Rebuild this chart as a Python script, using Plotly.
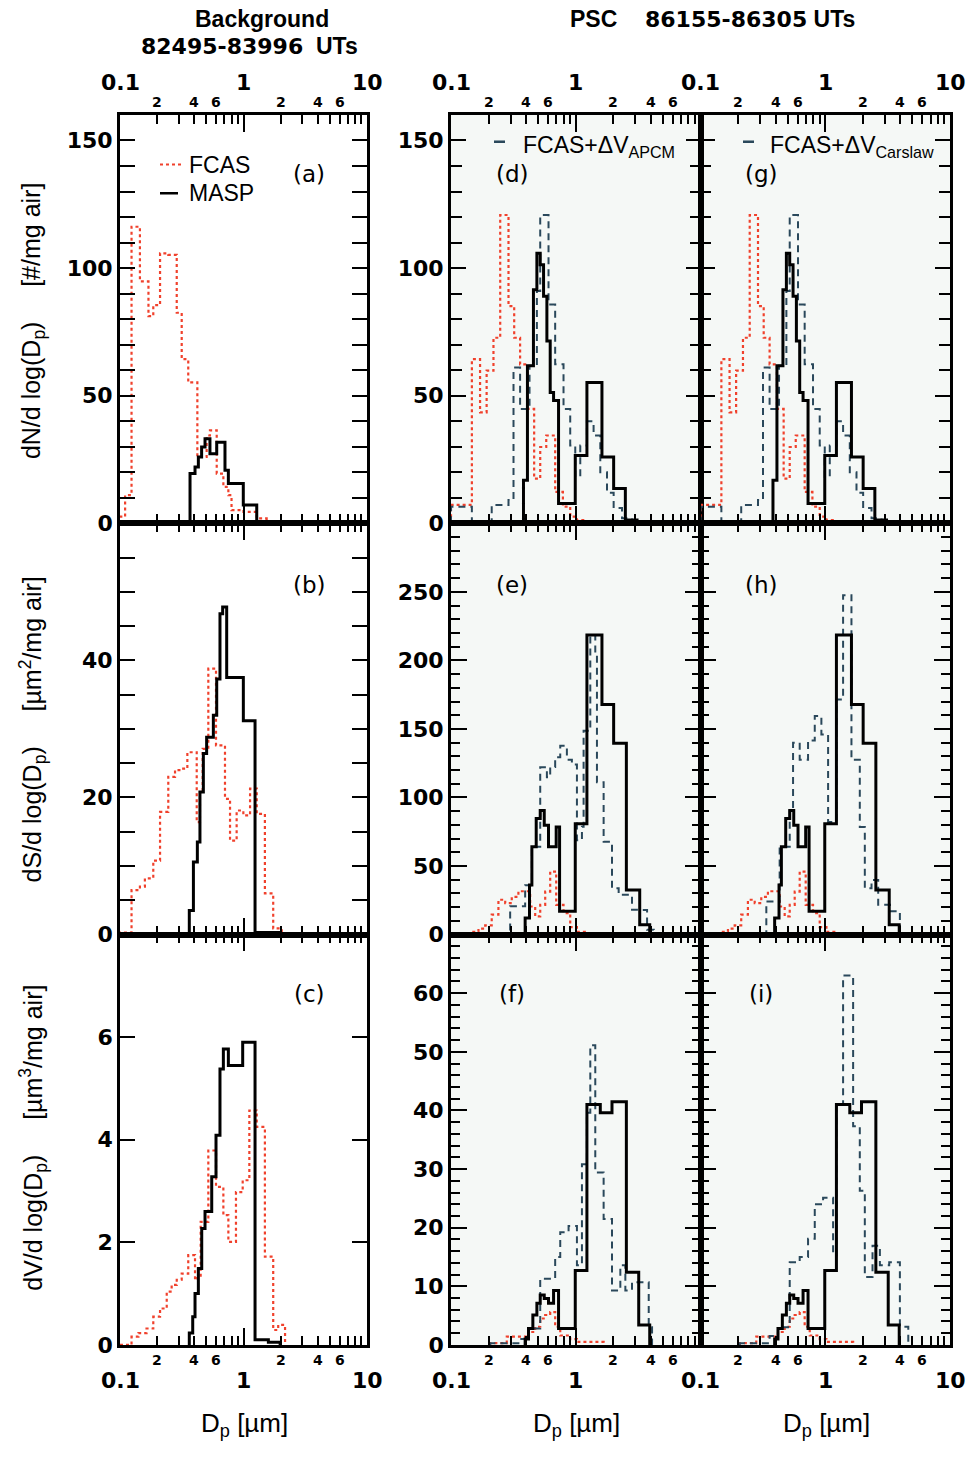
import math
import plotly.graph_objects as go

# ---------------------------------------------------------------------------
# Size distributions: bin edges in Dp [um] and dX/dlog(Dp) per bin
# ---------------------------------------------------------------------------

# Background, 82495-83996 UTs
bg_fcas_n_edges = [0.100, 0.110, 0.124, 0.145, 0.170, 0.186, 0.211, 0.246, 0.288, 0.316,
                   0.357, 0.423, 0.503, 0.535, 0.607, 0.687, 0.754, 0.800, 1.00, 1.28, 1.54, 1.74]
bg_fcas_n = [2.6, 11.0, 116.2, 94.8, 81.2, 85.5, 105.8, 105.2, 82.5, 64.3,
             55.2, 26.0, 34.4, 36.4, 19.5, 14.3, 11.0, 5.2, 4.5, 1.9, 0.6]
bg_masp_n_edges = [0.369, 0.405, 0.431, 0.458, 0.488, 0.535, 0.607, 0.708, 0.754, 0.996, 1.28]
bg_masp_n = [19.5, 22.1, 26.0, 29.9, 33.1, 27.3, 31.8, 20.8, 15.6, 7.2]

bg_fcas_s_edges = [0.100, 0.124, 0.145, 0.159, 0.186, 0.211, 0.246, 0.279, 0.316, 0.351, 0.418,
                   0.444, 0.467, 0.519, 0.599, 0.708, 0.778, 0.880, 0.997, 1.13, 1.28, 1.49, 1.74, 2.04]
bg_fcas_s = [0.3, 6.5, 7.0, 8.2, 10.8, 17.9, 23.0, 24.0, 24.2, 26.6, 16.4,
             20.8, 27.1, 38.8, 27.6, 19.8, 13.7, 18.1, 17.4, 21.3, 17.6, 6.0, 0.9]
bg_masp_s_edges = [0.364, 0.393, 0.423, 0.444, 0.473, 0.503, 0.570, 0.607, 0.645, 0.678,
                   0.731, 0.997, 1.24, 1.98]
bg_masp_s = [3.5, 10.6, 13.5, 20.8, 26.4, 28.8, 32.0, 37.3, 46.8, 47.8, 37.5, 31.2, 0.3]

bg_fcas_v_edges = [0.100, 0.124, 0.141, 0.164, 0.186, 0.211, 0.239, 0.262, 0.288, 0.316, 0.357,
                   0.405, 0.423, 0.450, 0.519, 0.599, 0.687, 0.754, 0.869, 0.985, 1.115, 1.28,
                   1.49, 1.74, 1.91, 2.17]
bg_fcas_v = [0.0, 0.16, 0.23, 0.32, 0.55, 0.71, 1.04, 1.17, 1.27, 1.39, 1.75, 1.27, 1.30,
             2.40, 3.79, 3.08, 2.53, 2.01, 2.98, 3.21, 4.57, 4.25, 1.72, 0.29, 0.39]
bg_masp_v_edges = [0.364, 0.388, 0.405, 0.431, 0.459, 0.488, 0.553, 0.599, 0.645, 0.687,
                   0.754, 0.985, 1.24, 1.59, 1.98]
bg_masp_v = [0.23, 0.55, 1.00, 1.49, 2.27, 2.60, 3.28, 4.09, 5.38, 5.77, 5.45, 5.90, 0.10, 0.05]

# PSC, 86155-86305 UTs
psc_fcas_n_edges = [0.100, 0.147, 0.171, 0.193, 0.219, 0.248, 0.289, 0.321, 0.358, 0.410,
                    0.464, 0.519, 0.580, 0.684, 0.789, 0.903, 1.022, 1.229, 2.141]
psc_fcas_n = [7.2, 64.3, 43.5, 59.8, 72.7, 120.8, 85.1, 72.7, 62.3, 44.8,
              17.5, 29.9, 34.4, 12.3, 6.5, 2.6, 1.3, 0.6]
psc_masp_n_edges = [0.381, 0.410, 0.458, 0.488, 0.519, 0.552, 0.587, 0.624, 0.664, 0.728,
                    0.991, 1.229, 1.622, 2.013, 2.498, 3.10, 3.30]
psc_masp_n = [16.9, 61.7, 91.5, 105.8, 101.3, 89.0, 71.4, 51.3, 48.1, 7.8,
              26.6, 55.2, 26.0, 13.6, 1.3, 0.5]
apcm_n_edges = [0.100, 0.147, 0.212, 0.289, 0.317, 0.358, 0.426, 0.488, 0.519, 0.605, 0.684,
                0.798, 0.903, 0.991, 1.087, 1.229, 1.39, 1.573, 1.78, 2.013, 2.349, 2.826, 3.30]
apcm_n = [6.5, 0.0, 7.2, 9.1, 61.0, 44.8, 61.7, 91.0, 120.8, 85.7, 62.3,
          44.8, 30.5, 18.2, 30.5, 40.0, 34.4, 20.0, 12.0, 6.0, 2.0, 0.8]
carslaw_n_edges = [0.100, 0.147, 0.212, 0.289, 0.317, 0.358, 0.426, 0.488, 0.519, 0.605, 0.684,
                   0.798, 0.903, 0.991, 1.087, 1.229, 1.39, 1.573, 1.78, 2.013, 2.349, 2.826, 3.30]
carslaw_n = [6.5, 0.0, 7.2, 9.1, 61.0, 44.8, 61.7, 91.0, 120.8, 85.7, 62.3,
             44.8, 30.5, 18.2, 30.5, 40.0, 34.4, 20.0, 12.0, 6.0, 2.0, 0.8]

psc_fcas_s_edges = [0.100, 0.147, 0.166, 0.188, 0.212, 0.240, 0.272, 0.307, 0.347, 0.431,
                    0.473, 0.519, 0.569, 0.624, 0.697, 0.798, 0.903, 1.022, 1.229, 1.78]
psc_fcas_s = [0.5, 2.0, 4.3, 6.7, 14.5, 25.4, 22.9, 27.5, 31.6, 20.5,
              13.3, 21.7, 31.4, 45.9, 21.7, 15.7, 5.5, 2.0, 0.8]
psc_masp_s_edges = [0.393, 0.426, 0.445, 0.482, 0.519, 0.559, 0.605, 0.697, 0.742, 0.991,
                    1.229, 1.622, 2.013, 2.545, 3.257, 3.918]
psc_masp_s = [12.1, 36.2, 64.0, 84.6, 90.6, 79.7, 64.0, 78.5, 17.0,
              80.9, 218.6, 167.9, 139.6, 32.6, 7.2]
apcm_s_edges = [0.206, 0.298, 0.393, 0.445, 0.519, 0.587, 0.624, 0.684, 0.751, 0.849, 0.931,
                1.022, 1.121, 1.156, 1.308, 1.434, 1.479, 1.673, 1.952, 2.208, 2.826, 3.197,
                3.73, 4.22]
apcm_s = [0.5, 20.6, 36.0, 64.0, 122.0, 114.8, 122.3, 129.3, 137.7, 127.5, 124.0,
          68.8, 78.6, 148.6, 218.6, 205.0, 111.2, 67.7, 33.8, 29.0, 18.1, 18.0, 3.6]
carslaw_s_edges = [0.206, 0.337, 0.431, 0.519, 0.552, 0.624, 0.728, 0.824, 0.931, 1.054,
                   1.229, 1.39, 1.622, 1.892, 2.076, 2.349, 2.657, 3.30, 3.965, 4.22]
carslaw_s = [1.2, 24.2, 64.0, 90.0, 140.0, 127.6, 141.5, 159.4, 146.0, 82.2,
             171.5, 247.6, 127.5, 78.5, 33.8, 39.9, 21.8, 17.0, 2.0]

psc_fcas_v_edges = [0.206, 0.280, 0.418, 0.473, 0.519, 0.569, 0.624, 0.684, 0.751, 0.903,
                    1.022, 1.673]
psc_fcas_v = [0.3, 1.4, 2.2, 3.1, 4.5, 5.1, 5.6, 3.1, 1.6, 1.0, 0.5]
psc_masp_v_edges = [0.393, 0.418, 0.453, 0.488, 0.519, 0.559, 0.605, 0.664, 0.728, 0.991,
                    1.229, 1.573, 1.952, 2.545, 3.197, 3.918]
psc_masp_v = [1.0, 2.8, 5.1, 7.1, 8.5, 7.9, 7.1, 9.3, 2.8, 12.7, 41.0, 39.6, 41.5, 12.4, 3.4]
apcm_v_edges = [0.206, 0.358, 0.418, 0.519, 0.684, 0.751, 0.876, 1.022, 1.121, 1.229, 1.308,
                1.434, 1.673, 1.952, 2.277, 2.498, 2.826, 3.30, 3.846, 4.09]
apcm_v = [0.3, 1.0, 2.8, 11.3, 15.0, 19.2, 20.3, 13.6, 30.8, 39.6, 51.1,
          29.4, 21.5, 9.3, 13.6, 9.3, 10.7, 10.7, 3.0]
carslaw_v_edges = [0.206, 0.358, 0.418, 0.519, 0.624, 0.728, 0.824, 0.961, 1.156, 1.229, 1.39,
                   1.673, 1.892, 2.076, 2.393, 2.741, 3.257, 3.965, 4.63]
carslaw_v = [0.3, 1.5, 3.0, 14.1, 15.0, 18.1, 24.0, 25.1, 15.3, 41.0, 63.0,
             37.3, 26.3, 11.6, 16.9, 13.6, 14.1, 3.1]

# ---------------------------------------------------------------------------
# Page geometry (pixels) and styles
# ---------------------------------------------------------------------------
W, H = 972, 1458
COLS = [(120, 367), (451, 700.5), (700.5, 950)]
ROWS = [(116, 528), (528, 943), (943, 1357)]

FCAS = dict(color="#f0412c", width=2.2, dash="dot")
MASP = dict(color="#000000", width=3.0)
MODEL = dict(color="#2a485b", width=2.0, dash="7px,5px")

TICKFONT = dict(family="DejaVu Sans", size=22, color="black", weight="bold")
TEXTFONT = dict(family="Liberation Sans, Arial", size=23, color="black")
XTITLEFONT = dict(family="Liberation Sans, Arial", size=26, color="black")
LETTERFONT = dict(family="DejaVu Sans", size=23, color="black")
TITLEFONT = dict(family="Liberation Sans, Arial", size=23, color="black", weight="bold")
YTITLEFONT = dict(family="Liberation Sans, Arial", size=25, color="black")
DIGITS = "font-family:'DejaVu Sans';font-size:22px"


def fx(p):
    return p / W


def fy(p):
    return 1 - p / H


def steps(edges, vals):
    """Closed step outline of a histogram (rises from 0 and returns to 0)."""
    x = [edges[0]] + list(edges) + [edges[-1]]
    y = [0] + list(vals) + [vals[-1], 0]
    return x, y


# (row, col) -> list of (edges, values, style)
panels = {
    (0, 0): [(bg_fcas_n_edges, bg_fcas_n, FCAS), (bg_masp_n_edges, bg_masp_n, MASP)],
    (1, 0): [(bg_fcas_s_edges, bg_fcas_s, FCAS), (bg_masp_s_edges, bg_masp_s, MASP)],
    (2, 0): [(bg_fcas_v_edges, bg_fcas_v, FCAS), (bg_masp_v_edges, bg_masp_v, MASP)],
    (0, 1): [(psc_fcas_n_edges, psc_fcas_n, FCAS), (apcm_n_edges, apcm_n, MODEL),
             (psc_masp_n_edges, psc_masp_n, MASP)],
    (1, 1): [(psc_fcas_s_edges, psc_fcas_s, FCAS), (apcm_s_edges, apcm_s, MODEL),
             (psc_masp_s_edges, psc_masp_s, MASP)],
    (2, 1): [(psc_fcas_v_edges, psc_fcas_v, FCAS), (apcm_v_edges, apcm_v, MODEL),
             (psc_masp_v_edges, psc_masp_v, MASP)],
    (0, 2): [(psc_fcas_n_edges, psc_fcas_n, FCAS), (carslaw_n_edges, carslaw_n, MODEL),
             (psc_masp_n_edges, psc_masp_n, MASP)],
    (1, 2): [(psc_fcas_s_edges, psc_fcas_s, FCAS), (carslaw_s_edges, carslaw_s, MODEL),
             (psc_masp_s_edges, psc_masp_s, MASP)],
    (2, 2): [(psc_fcas_v_edges, psc_fcas_v, FCAS), (carslaw_v_edges, carslaw_v, MODEL),
             (psc_masp_v_edges, psc_masp_v, MASP)],
}

letters = {(0, 0): "(a)", (1, 0): "(b)", (2, 0): "(c)",
           (0, 1): "(d)", (1, 1): "(e)", (2, 1): "(f)",
           (0, 2): "(g)", (1, 2): "(h)", (2, 2): "(i)"}


def yspec(row, col):
    """Range, labelled ticks, minor ticks and tick lengths of each y axis."""
    if row == 0:
        return 160, [0, 50, 100, 150], list(range(10, 160, 10)), (15, 15 if col == 0 else 11)
    if row == 1:
        if col == 0:
            return 60, [0, 20, 40], list(range(5, 60, 5)), (15, 15)
        return 300, [0, 50, 100, 150, 200, 250], list(range(10, 300, 10)), (16, 9)
    if col == 0:
        return 8, [0, 2, 4, 6], [], (15, 15)
    return 70, [0, 10, 20, 30, 40, 50, 60], list(range(2, 70, 2)), (16, 9)


fig = go.Figure()
layout = {}
shapes = []
annotations = []

minor_x = [d * 0.1 for d in range(2, 10)] + [float(d) for d in range(2, 10)]

for (row, col), series in panels.items():
    n = row * 3 + col + 1
    xa = "x" if n == 1 else f"x{n}"
    ya = "y" if n == 1 else f"y{n}"
    for edges, vals, style in series:
        sx, sy = steps(edges, vals)
        fig.add_trace(go.Scatter(x=sx, y=sy, mode="lines", line_shape="hv",
                                 line=style, xaxis=xa, yaxis=ya, hoverinfo="skip"))

    x0, x1 = COLS[col]
    y0, y1 = ROWS[row]
    ymax, major, minor, (mlen, nlen) = yspec(row, col)
    key = "" if n == 1 else str(n)
    layout[f"xaxis{key}"] = dict(
        type="log", range=[-1, 1], domain=[fx(x0), fx(x1)], anchor=ya,
        showline=True, linewidth=2.8, linecolor="black", mirror="allticks",
        ticks="inside", tickvals=[0.1, 1, 10], ticklen=17, tickwidth=2, tickcolor="black",
        showticklabels=False, showgrid=False, zeroline=False,
        minor=dict(tickmode="array", tickvals=minor_x, ticks="inside", ticklen=9,
                   tickwidth=2, tickcolor="black", showgrid=False),
    )
    layout[f"yaxis{key}"] = dict(
        range=[0, ymax], domain=[fy(y1), fy(y0)], anchor=xa,
        showline=True, linewidth=2.8, linecolor="black", mirror="allticks",
        ticks="inside", tickmode="array", tickvals=major, ticklen=mlen, tickwidth=2,
        tickcolor="black", showticklabels=(col < 2), tickfont=TICKFONT,
        showgrid=False, zeroline=False,
        minor=dict(tickmode="array", tickvals=minor, ticks="inside", ticklen=nlen,
                   tickwidth=2, tickcolor="black", showgrid=False),
    )
    # panel background
    shapes.append(dict(type="rect", xref=f"{xa} domain", yref=f"{ya} domain",
                       x0=0, x1=1, y0=0, y1=1, layer="below", line_width=0,
                       fillcolor="white" if col == 0 else "#f5f8f6"))
    # panel letter
    lx = {0: 309, 1: 512, 2: 761}[col]
    ly = {0: 176, 1: 590, 2: 1003}[row]
    annotations.append(dict(text=letters[(row, col)], x=fx(lx), y=fy(ly), xref="paper",
                            yref="paper", showarrow=False, font=LETTERFONT,
                            xanchor="center", yanchor="middle"))

# Decade labels on the top and bottom x axes
big_labels = {0: [(0.1, "0.1"), (1, "1"), (10, "10")],
              1: [(0.1, "0.1"), (1, "1")],
              2: [(0.1, "0.1"), (1, "1"), (10, "10")]}
small_labels = [(0.2, "2"), (0.4, "4"), (0.6, "6"), (2, "2"), (4, "4"), (6, "6")]
BIG = dict(family="DejaVu Sans", size=22, color="black", weight="bold")
SMALL = dict(family="DejaVu Sans", size=14, color="black", weight="bold")
for col in range(3):
    top_x = "x" if col == 0 else f"x{col + 1}"
    bot_x = f"x{7 + col}"
    for xr, ybig, ysmall in [(top_x, 83, 103), (bot_x, 1393, 1372)]:
        for v, t in big_labels[col]:
            annotations.append(dict(text=t, x=math.log10(v), y=fy(ybig), xref=xr,
                                    yref="paper", showarrow=False, font=BIG,
                                    xanchor="center", yanchor="middle"))
        for v, t in small_labels:
            annotations.append(dict(text=t, x=math.log10(v), y=fy(ysmall), xref=xr,
                                    yref="paper", showarrow=False, font=SMALL,
                                    xanchor="center", yanchor="middle"))
    # x-axis title under each column
    cx = (COLS[col][0] + COLS[col][1]) / 2 + 1
    annotations.append(dict(text="D<sub>p</sub> [µm]", x=fx(cx), y=fy(1437),
                            xref="paper", yref="paper", showarrow=False, font=XTITLEFONT,
                            xanchor="center", yanchor="middle"))

# y-axis titles
for ytxt, yc in [("dN/d log(D<sub>p</sub>)     [#/mg air]", 324),
                 ("dS/d log(D<sub>p</sub>)     [µm<sup>2</sup>/mg air]", 736),
                 ("dV/d log(D<sub>p</sub>)     [µm<sup>3</sup>/mg air]", 1148)]:
    annotations.append(dict(text=ytxt, x=fx(33), y=fy(yc), xref="paper", yref="paper",
                            showarrow=False, textangle=-90, font=YTITLEFONT,
                            xanchor="center", yanchor="middle"))

# Column headings (digits set in a wider face)
headings = [("Background", 262, 19),
            (f"<span style=\"{DIGITS}\">82495-83996</span>  UTs", 249, 46),
            ("PSC", 593, 19),
            (f"<span style=\"{DIGITS}\">86155-86305</span> UTs", 750, 19)]
for txt, x, y in headings:
    annotations.append(dict(text=txt, x=fx(x), y=fy(y), xref="paper", yref="paper",
                            showarrow=False, font=TITLEFONT, xanchor="center",
                            yanchor="middle"))

# Legend entries
shapes.append(dict(type="line", xref="paper", yref="paper", x0=fx(160), x1=fx(182),
                   y0=fy(166), y1=fy(166), line=FCAS))
shapes.append(dict(type="line", xref="paper", yref="paper", x0=fx(160), x1=fx(178),
                   y0=fy(195), y1=fy(195), line=dict(color="black", width=2.5)))
annotations.append(dict(text="FCAS", x=fx(187), y=fy(166), xref="paper", yref="paper",
                        showarrow=False, font=TEXTFONT, xanchor="left", yanchor="middle"))
annotations.append(dict(text="MASP", x=fx(187), y=fy(195), xref="paper", yref="paper",
                        showarrow=False, font=TEXTFONT, xanchor="left", yanchor="middle"))
for x0, xt, sub in [(494, 521, "APCM"), (743, 768, "Carslaw")]:
    shapes.append(dict(type="line", xref="paper", yref="paper", x0=fx(x0), x1=fx(x0 + 11),
                       y0=fy(143), y1=fy(143), line=dict(color=MODEL["color"], width=2.5)))
    annotations.append(dict(text=f"FCAS+ΔV<sub>{sub}</sub>", x=fx(xt), y=fy(148),
                            xref="paper", yref="paper", showarrow=False, font=TEXTFONT,
                            xanchor="left", yanchor="middle"))

fig.update_layout(
    width=W, height=H, margin=dict(l=0, r=0, t=0, b=0),
    paper_bgcolor="white", plot_bgcolor="rgba(0,0,0,0)", showlegend=False,
    shapes=shapes, annotations=annotations, **layout,
)

fig.write_html("out.html")
